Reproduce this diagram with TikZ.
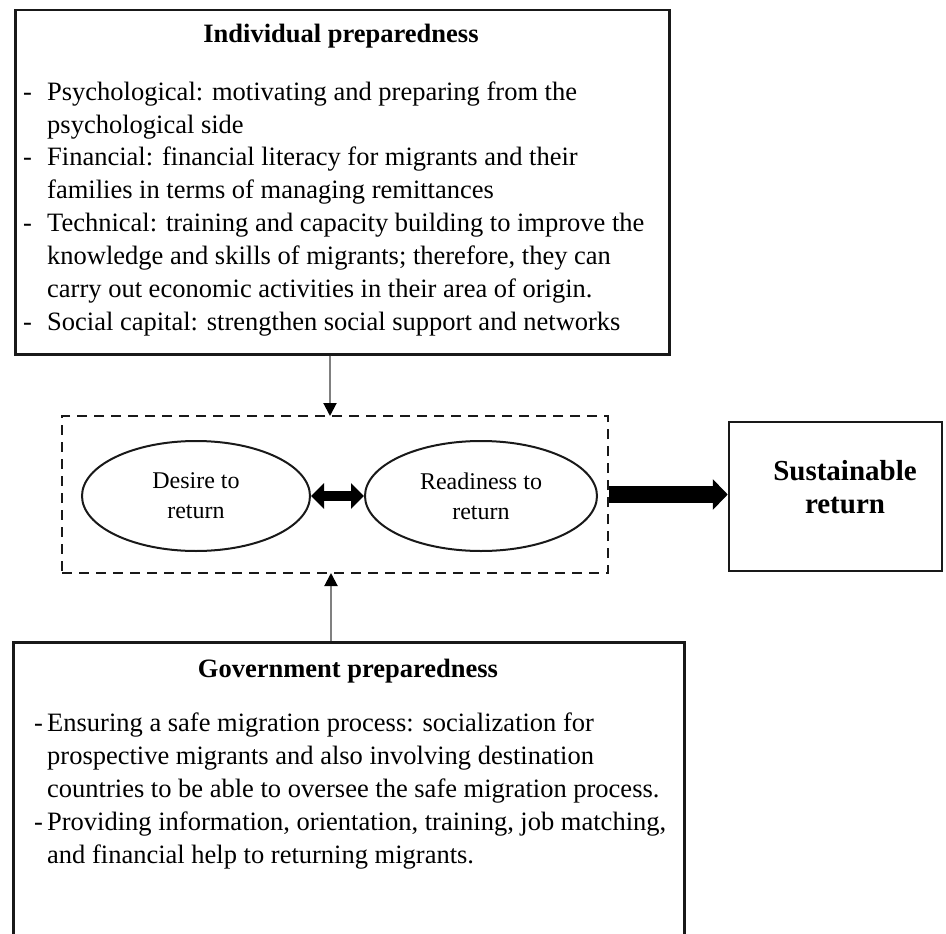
\documentclass[tikz,border=0pt]{standalone}
\usepackage{fontspec}
\setmainfont{Liberation Serif}
\usetikzlibrary{arrows.meta}
\usetikzlibrary{shapes.geometric}
\usetikzlibrary{positioning}

\tikzset{
  frame/.style={draw=black!90,line width=2.5pt,inner sep=0pt},
  dashframe/.style={draw=black!90,line width=2.5pt,dash pattern=on 10pt off 7pt,inner sep=0pt},
  oval/.style={ellipse,draw=black!90,line width=2pt,minimum height=110pt,inner sep=0pt,align=center,font=\fontsize{24}{30}\selectfont},
  txt/.style={inner sep=0pt,font=\fontsize{26.5}{33}\selectfont},
  title/.style={inner sep=0pt,font=\fontsize{26.5}{33}\selectfont\bfseries},
  feed/.style={draw=black!50,line width=2pt,-{Triangle[length=13pt,width=13pt,color=black]}},
  pair/.style={line width=10pt,{Triangle[length=13pt,width=25pt]}-{Triangle[length=13pt,width=25pt]}},
  bigarrow/.style={line width=17pt,-{Triangle[length=15pt,width=30pt]}},
}

\begin{document}
\begin{tikzpicture}[x=1pt,y=-1pt]
\useasboundingbox (0,0) rectangle (946,934);

% top box
\node[frame,minimum width=654pt,minimum height=344pt,anchor=north west] (indiv) at (14,9) {};
\node[title,anchor=base] (indivTitle) at (341,43) {Individual preparedness};
\node[txt,anchor=base west] (indivList) at (23,100) {\begin{tabular}[t]{@{}p{24pt}@{}l@{}}
- & Psychological: motivating and preparing from the\\
  & psychological side\\
- & Financial: financial literacy for migrants and their\\
  & families in terms of managing remittances\\
- & Technical: training and capacity building to improve the\\
  & knowledge and skills of migrants; therefore, they can\\
  & carry out economic activities in their area of origin.\\
- & Social capital: strengthen social support and networks
\end{tabular}};

% middle
\node[dashframe,minimum width=546pt,minimum height=157pt] (core) at (335,494.5) {};
\node[oval,minimum width=228pt] (desire) at (196,496) {Desire to\\return};
\node[oval,minimum width=232pt] (ready) at (481,496) {Readiness to\\return};
\node[frame,minimum width=213pt,minimum height=149pt] (sust) at (835.5,496.5) {};
\node[inner sep=0pt,align=center,font=\fontsize{29}{33}\selectfont\bfseries] (sustText) at (845,487) {Sustainable\\return};

% bottom box
\node[frame,minimum width=671pt,minimum height=297pt,anchor=north west] (gov) at (12,641) {};
\node[title,anchor=base] (govTitle) at (348,677) {Government preparedness};
\node[txt,anchor=base west] (govList) at (34,731) {\begin{tabular}[t]{@{}p{13pt}@{}l@{}}
- & Ensuring a safe migration process: socialization for\\
  & prospective migrants and also involving destination\\
  & countries to be able to oversee the safe migration process.\\
- & Providing information, orientation, training, job matching,\\
  & and financial help to returning migrants.
\end{tabular}};

% connectors
\coordinate (topIn) at (330,416);
\coordinate (botIn) at (331,573);
\draw[feed] (indiv.south -| topIn) -- (topIn);
\draw[feed] (gov.north -| botIn) -- (botIn);
\draw[pair] (desire.east) -- (ready.west);
\draw[bigarrow] (core.east) -- (core.east -| sust.west);

\end{tikzpicture}
\end{document}
